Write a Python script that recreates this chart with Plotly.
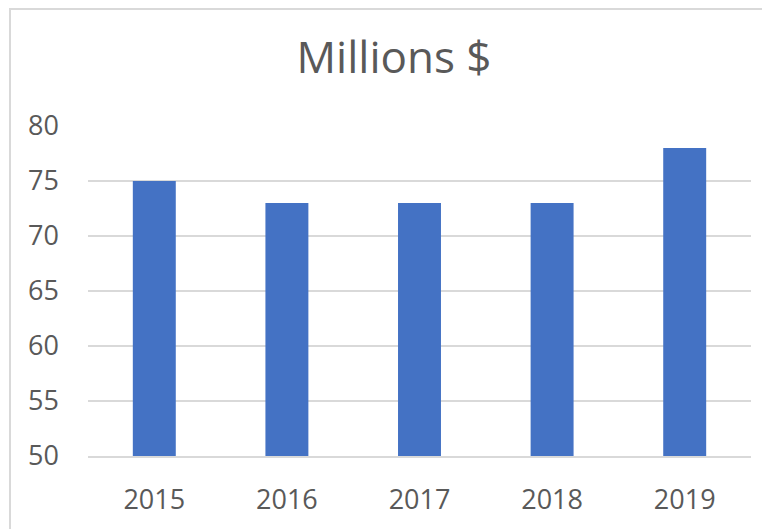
import plotly.graph_objects as go

years = ["2015", "2016", "2017", "2018", "2019"]
values = [75, 73, 73, 73, 78]
y_ticks = [50, 55, 60, 65, 70, 75, 80]

# page body has an 8px margin; figure coordinates = screen - 8
OFF = 8
W, H = 770, 529
L, R, T, B = 88 - OFF, W - (751 - OFF), 126 - OFF, H - (456 - OFF)
pw, ph = W - L - R, H - T - B

fig = go.Figure(go.Bar(
    x=years, y=values, marker_color="#4472C4", width=0.324,
    marker_line_width=0,
))

def px_to_paper_x(px):
    return (px - OFF - L) / pw

def px_to_paper_y(py):
    return (H - B - (py - OFF)) / ph

fig.add_shape(type="rect", xref="paper", yref="paper",
              x0=px_to_paper_x(10), x1=px_to_paper_x(800),
              y0=px_to_paper_y(600), y1=px_to_paper_y(9),
              line=dict(color="#d9d9d9", width=2), fillcolor="rgba(0,0,0,0)",
              layer="below")

fig.update_layout(
    width=W, height=H,
    margin=dict(l=L, r=R, t=T, b=B, pad=0),
    paper_bgcolor="white", plot_bgcolor="white",
    font=dict(family="Open Sans", color="#595959"),
    title=dict(text="Millions $", x=(394 - OFF) / W, xanchor="center",
               y=1 - (58 - OFF) / H, yanchor="middle", xref="container", yref="container",
               font=dict(size=44, color="#595959", family="Open Sans")),
    showlegend=False,
)
fig.update_xaxes(showgrid=False, showline=True, linecolor="#d9d9d9", linewidth=1.5,
                 ticks="", tickfont=dict(size=27, color="#595959"),
                 ticklabelstandoff=19)
fig.update_yaxes(range=[50, 80], tickvals=y_ticks, showgrid=True, gridcolor="#d9d9d9",
                 gridwidth=1.5, zeroline=False, showline=False, ticks="",
                 tickfont=dict(size=27, color="#595959"), ticklabelstandoff=28)

fig.write_html("out.html")
